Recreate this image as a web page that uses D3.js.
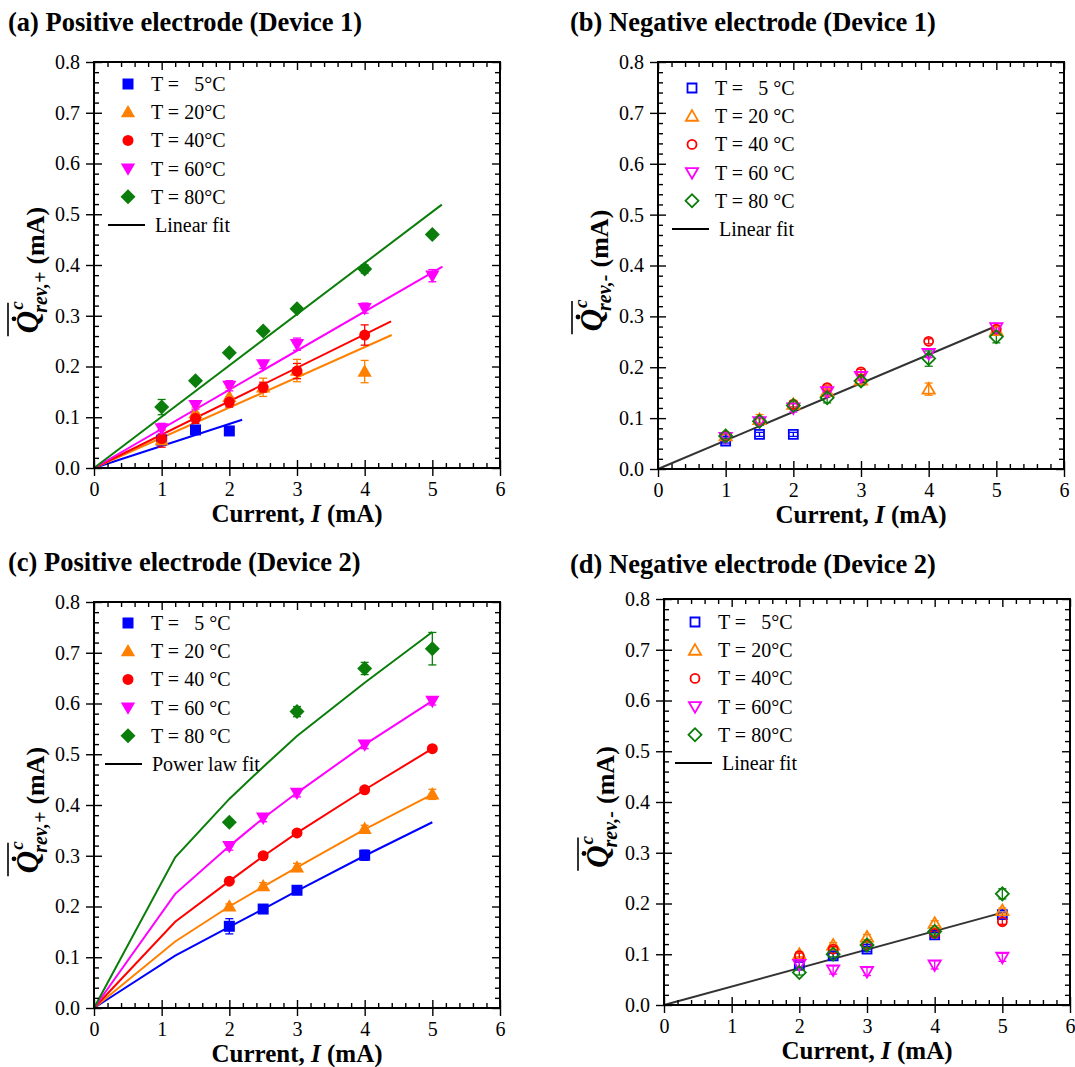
<!DOCTYPE html>
<html>
<head>
<meta charset="utf-8">
<script src="https://cdn.jsdelivr.net/npm/d3@7"></script>
<style>
    body { margin: 0; background: #fff; }
    svg { display: block; }
    text { font-family: "Liberation Serif", "Times New Roman", serif; fill: #000; }
</style>
</head>
<body>
<svg id="chart" width="1075" height="1067"></svg>
<script>
/*
    Reversible heat vs current, four panels (two devices, two electrodes)
 */

// ---- data ----
const tempLabels = ["5", "20", "40", "60", "80"];
const currentD1 = [1, 1.5, 2, 2.5, 3, 4, 5];
const currentD2 = [2, 2.5, 3, 4, 5];
const fitCurrentD2 = [0, 1.2, 2, 2.5, 3, 4, 5];

// (a) positive electrode, device 1
const posD1Q = [
    [0.055, 0.075, 0.073, null, null, null, null],
    [0.055, 0.108, 0.140, 0.159, 0.192, 0.190, null],
    [0.058, 0.098, 0.130, 0.159, 0.191, 0.262, null],
    [0.078, 0.124, 0.162, 0.204, 0.244, 0.315, 0.379],
    [0.120, 0.172, 0.227, 0.270, 0.314, 0.392, 0.460]
];
const posD1Err = [
    [0.010, 0.005, 0.005, 0, 0, 0, 0],
    [0.010, 0.012, 0.018, 0.018, 0.022, 0.022, 0],
    [0.017, 0.010, 0.010, 0.010, 0.015, 0.020, 0],
    [0.010, 0.008, 0.010, 0.008, 0.012, 0.010, 0.012],
    [0.015, 0.005, 0.005, 0.005, 0.005, 0.008, 0.005]
];
const posD1FitEndI = [2.19, 4.40, 4.39, 5.15, 5.14];
const posD1FitEndQ = [0.095, 0.262, 0.289, 0.397, 0.519];

// (b) negative electrode, device 1
const negD1Q = [
    [0.055, 0.068, 0.068, null, null, null, null],
    [0.065, 0.097, 0.127, 0.152, 0.175, 0.157, 0.272],
    [0.065, 0.095, 0.127, 0.160, 0.191, 0.251, 0.275],
    [0.062, 0.093, 0.120, 0.152, 0.182, 0.227, 0.278],
    [0.065, 0.094, 0.125, 0.140, 0.173, 0.217, 0.260]
];
const negD1Err = [
    [0.004, 0.004, 0.004, 0, 0, 0, 0],
    [0.006, 0.010, 0.008, 0.008, 0.008, 0.012, 0.008],
    [0.005, 0.005, 0.005, 0.005, 0.005, 0.005, 0.005],
    [0.006, 0.006, 0.008, 0.008, 0.008, 0.008, 0.008],
    [0.005, 0.008, 0.008, 0.010, 0.008, 0.015, 0.012]
];
const negD1FitI = [0, 5];
const negD1FitQ = [0, 0.281];

// (c) positive electrode, device 2
const posD2Q = [
    [0.161, 0.195, 0.232, 0.301, null],
    [0.200, 0.240, 0.277, 0.353, 0.421],
    [0.250, 0.300, 0.345, 0.430, 0.511],
    [0.319, 0.375, 0.424, 0.519, 0.605],
    [0.366, null, 0.584, 0.669, 0.708]
];
const posD2Err = [
    [0.015, 0.005, 0.005, 0.010, 0],
    [0.005, 0.007, 0.008, 0.007, 0.010],
    [0.005, 0.005, 0.005, 0.005, 0.005],
    [0.008, 0.008, 0.008, 0.008, 0.008],
    [0.005, 0, 0.010, 0.012, 0.032]
];
const posD2FitQ = [
    [0, 0.103, 0.160, 0.195, 0.231, 0.300, 0.366],
    [0, 0.131, 0.200, 0.239, 0.277, 0.352, 0.421],
    [0, 0.170, 0.250, 0.299, 0.345, 0.430, 0.511],
    [0, 0.225, 0.319, 0.374, 0.424, 0.519, 0.605],
    [0, 0.297, 0.412, 0.475, 0.536, 0.641, 0.741]
];

// (d) negative electrode, device 2
const negD2Q = [
    [0.079, 0.097, 0.110, 0.138, 0.178],
    [0.100, 0.118, 0.134, 0.161, 0.186],
    [0.097, 0.110, 0.118, 0.141, 0.164],
    [0.080, 0.069, 0.066, 0.079, 0.094],
    [0.064, 0.100, 0.118, 0.145, 0.219]
];
const negD2Err = [
    [0.005, 0.005, 0.005, 0.005, 0.005],
    [0.005, 0.005, 0.005, 0.005, 0.005],
    [0.005, 0.005, 0.005, 0.005, 0.005],
    [0.005, 0.008, 0.008, 0.008, 0.008],
    [0.005, 0.005, 0.005, 0.005, 0.010]
];
const negD2FitI = [0, 5];
const negD2FitQ = [0, 0.182];

const xTicks = [0, 1, 2, 3, 4, 5, 6];
const yTicks = [0, 0.1, 0.2, 0.3, 0.4, 0.5, 0.6, 0.7, 0.8];

// ---- styling ----
const colors = ["#0000ff", "#ff8000", "#ff0000", "#ff00ff", "#0a7d0a"];
const shapes = ["square", "up", "circle", "down", "diamond"];
const FONT = "Liberation Serif";

const svg = d3.select("#chart");

function markerPath(shape, size) {
    if (shape === "square") return d3.symbol(d3.symbolSquare, size * size)();
    if (shape === "circle") return d3.symbol(d3.symbolCircle, Math.PI * size * size / 4)();
    if (shape === "diamond") return d3.symbol(d3.symbolSquare, size * size / 2)();
    // triangles
    return d3.symbol(d3.symbolTriangle, size * size * 0.45)();
}

function drawMarker(g, shape, cx, cy, color, filled) {
    let size = filled ? 11 : 9;
    if (shape === "up" || shape === "down") size = filled ? 14 : 12;
    if (shape === "diamond") size = filled ? 15 : 13;
    let rot = 0;
    if (shape === "down") rot = 180;
    if (shape === "diamond") rot = 45;
    let dy = 0;
    if (shape === "up") dy = 1;
    if (shape === "down") dy = -1;
    g.append("path")
        .attr("d", markerPath(shape, size))
        .attr("transform", `translate(${cx},${cy + dy}) rotate(${rot})`)
        .attr("fill", filled ? color : "none")
        .attr("stroke", color)
        .attr("stroke-width", filled ? 0 : 1.8);
}

function drawAxes(g, x, y, w, h) {
    let tickFont = g => g.attr("font-family", null).attr("font-size", null)
        .selectAll("text")
        .style("font-size", "20px")
        .style("font-family", FONT);
    let clean = g => { g.select(".domain").remove(); g.selectAll("line").attr("stroke-width", 1.4); };

    let xMinor = d3.range(0, 6.01, 0.2).filter(v => Math.abs(v - Math.round(v)) > 1e-6);
    let yMinor = d3.range(0, 0.801, 0.02).filter(v => Math.abs(v * 10 - Math.round(v * 10)) > 1e-6);

    // bottom: major ticks crossing the axis, labels outside
    g.append("g").attr("transform", `translate(0,${h})`)
        .call(d3.axisBottom(x).tickValues(xTicks).tickSize(8).tickPadding(6).tickFormat(d3.format("d")))
        .call(tickFont).call(clean);
    g.append("g").attr("transform", `translate(0,${h})`)
        .call(d3.axisBottom(x).tickValues(xTicks).tickSize(-8).tickFormat(""))
        .call(clean);
    g.append("g").attr("transform", `translate(0,${h})`)
        .call(d3.axisBottom(x).tickValues(xMinor).tickSize(-5).tickFormat(""))
        .call(clean);
    // top
    g.append("g")
        .call(d3.axisTop(x).tickValues(xTicks).tickSize(-8).tickFormat(""))
        .call(clean);
    g.append("g")
        .call(d3.axisTop(x).tickValues(xMinor).tickSize(-5).tickFormat(""))
        .call(clean);
    // left
    g.append("g")
        .call(d3.axisLeft(y).tickValues(yTicks).tickSize(8).tickPadding(6).tickFormat(d3.format(".1f")))
        .call(tickFont).call(clean);
    g.append("g")
        .call(d3.axisLeft(y).tickValues(yTicks).tickSize(-8).tickFormat(""))
        .call(clean);
    g.append("g")
        .call(d3.axisLeft(y).tickValues(yMinor).tickSize(-5).tickFormat(""))
        .call(clean);
    // right
    g.append("g").attr("transform", `translate(${w},0)`)
        .call(d3.axisRight(y).tickValues(yTicks).tickSize(-8).tickFormat(""))
        .call(clean);
    g.append("g").attr("transform", `translate(${w},0)`)
        .call(d3.axisRight(y).tickValues(yMinor).tickSize(-5).tickFormat(""))
        .call(clean);

    g.append("rect")
        .attr("width", w).attr("height", h)
        .attr("fill", "none").attr("stroke", "#000").attr("stroke-width", 2);
}

function drawYTitle(g, cx, cy, subText) {
    let t = g.append("g").attr("transform", `translate(${cx},${cy}) rotate(-90)`);
    let inner = t.append("g");
    let q = inner.append("text").attr("x", 0).attr("y", -6)
        .style("font-size", "31px").style("font-weight", "bold").style("font-style", "italic")
        .text("Q");
    let qw = q.node().getComputedTextLength();
    inner.append("text").attr("x", qw + 1).attr("y", -21)
        .style("font-size", "19px").style("font-weight", "bold").style("font-style", "italic")
        .text("c");
    let sub = inner.append("text").attr("x", qw - 2).attr("y", 3)
        .style("font-size", "20px").style("font-weight", "bold").style("font-style", "italic")
        .text(subText);
    let sw = sub.node().getComputedTextLength();
    // overline and dot
    inner.append("line")
        .attr("x1", -3).attr("x2", qw + 8).attr("y1", -36).attr("y2", -36)
        .attr("stroke", "#000").attr("stroke-width", 1.6);
    inner.append("circle")
        .attr("cx", qw * 0.55 + 2).attr("cy", -30).attr("r", 2.4).attr("fill", "#000");
    let ma = inner.append("text").attr("x", qw + sw + 5).attr("y", 0)
        .style("font-size", "26px").style("font-weight", "bold")
        .text("(mA)");
    let total = qw + sw + 5 + ma.node().getComputedTextLength();
    inner.attr("transform", `translate(${-total / 2},0)`);
}

function drawLegend(g, lx, ly, unitText, filled, fitLabel, fitShift) {
    let rowH = 28.2;
    tempLabels.forEach((t, i) => {
        drawMarker(g, shapes[i], lx, ly + i * rowH, colors[i], filled);
        let pad = t.length === 1 ? "   " : " ";
        g.append("text")
            .attr("x", lx + 23).attr("y", ly + i * rowH + 7)
            .attr("xml:space", "preserve")
            .style("white-space", "pre")
            .style("font-size", "20px")
            .text("T =" + pad + t + unitText);
    });
    let fy = ly + 5 * rowH;
    let fx = lx + fitShift;
    g.append("line")
        .attr("x1", fx - 20).attr("x2", fx + 17)
        .attr("y1", fy).attr("y2", fy)
        .attr("stroke", "#000").attr("stroke-width", 2);
    g.append("text")
        .attr("x", fx + 27).attr("y", fy + 7)
        .style("font-size", "20px")
        .text(fitLabel);
}

function drawPanel(opt) {
    let w = opt.right - opt.left, h = opt.bottom - opt.top;
    let x = d3.scaleLinear().domain([0, 6]).range([0, w]);
    let y = d3.scaleLinear().domain([0, 0.8]).range([h, 0]);

    svg.append("text")
        .attr("x", opt.titleX).attr("y", opt.titleY)
        .style("font-size", "26.5px").style("font-weight", "bold")
        .text(opt.title);

    let g = svg.append("g").attr("transform", `translate(${opt.left},${opt.top})`);

    let line = d3.line().x(d => x(d[0])).y(d => y(d[1]));

    // fit lines
    opt.fits.forEach((pts, i) => {
        g.append("path")
            .attr("d", line(pts))
            .attr("fill", "none")
            .attr("stroke", opt.fitColor || colors[i])
            .attr("stroke-width", 2);
    });

    // error bars and markers
    opt.values.forEach((vals, i) => {
        vals.forEach((v, j) => {
            if (v === null) return;
            let e = opt.errors[i][j];
            if (e > 0) {
                let cx = x(opt.current[j]);
                g.append("line").attr("x1", cx).attr("x2", cx)
                    .attr("y1", y(v - e)).attr("y2", y(v + e))
                    .attr("stroke", colors[i]).attr("stroke-width", 1.3);
                [v - e, v + e].forEach(c => {
                    g.append("line").attr("x1", cx - 4).attr("x2", cx + 4)
                        .attr("y1", y(c)).attr("y2", y(c))
                        .attr("stroke", colors[i]).attr("stroke-width", 1.3);
                });
            }
        });
    });
    opt.values.forEach((vals, i) => {
        vals.forEach((v, j) => {
            if (v === null) return;
            drawMarker(g, shapes[i], x(opt.current[j]), y(v), colors[i], opt.filled);
        });
    });

    drawAxes(g, x, y, w, h);

    // x title
    let xt = g.append("text")
        .attr("x", w / 2).attr("y", h + 54)
        .attr("text-anchor", "middle")
        .style("font-size", "25px").style("font-weight", "bold");
    xt.append("tspan").text("Current, ");
    xt.append("tspan").style("font-style", "italic").text("I");
    xt.append("tspan").text(" (mA)");

    drawYTitle(g, -50, h / 2 + 5, opt.sub);

    drawLegend(g, opt.legendX - opt.left, opt.legendY - opt.top, opt.unit, opt.filled,
        opt.fitLabel, opt.fitShift || 0);
}

drawPanel({
    title: "(a) Positive electrode (Device 1)", titleX: 8, titleY: 31,
    left: 94, right: 500, top: 62, bottom: 468,
    current: currentD1, values: posD1Q, errors: posD1Err, filled: true,
    fits: posD1FitEndI.map((v, i) => [[0, 0], [v, posD1FitEndQ[i]]]),
    sub: "rev,+", unit: "°C", fitLabel: "Linear fit",
    legendX: 128, legendY: 84
});

drawPanel({
    title: "(b) Negative electrode (Device 1)", titleX: 570, titleY: 31,
    left: 658, right: 1064, top: 62, bottom: 469,
    current: currentD1, values: negD1Q, errors: negD1Err, filled: false,
    fits: [negD1FitI.map((v, i) => [v, negD1FitQ[i]])], fitColor: "#333",
    sub: "rev,-", unit: " °C", fitLabel: "Linear fit",
    legendX: 692, legendY: 88
});

drawPanel({
    title: "(c) Positive electrode (Device 2)", titleX: 8, titleY: 571,
    left: 94, right: 500, top: 602, bottom: 1008,
    current: currentD2, values: posD2Q, errors: posD2Err, filled: true,
    fits: posD2FitQ.map(arr => arr.map((v, j) => [fitCurrentD2[j], v])),
    sub: "rev,+", unit: " °C", fitLabel: "Power law fit", fitShift: -3,
    legendX: 128, legendY: 623
});

drawPanel({
    title: "(d) Negative electrode (Device 2)", titleX: 570, titleY: 573,
    left: 664, right: 1070, top: 599, bottom: 1005,
    current: currentD2, values: negD2Q, errors: negD2Err, filled: false,
    fits: [negD2FitI.map((v, i) => [v, negD2FitQ[i]])], fitColor: "#333",
    sub: "rev,-", unit: "°C", fitLabel: "Linear fit",
    legendX: 695, legendY: 622
});
</script>
</body>
</html>
